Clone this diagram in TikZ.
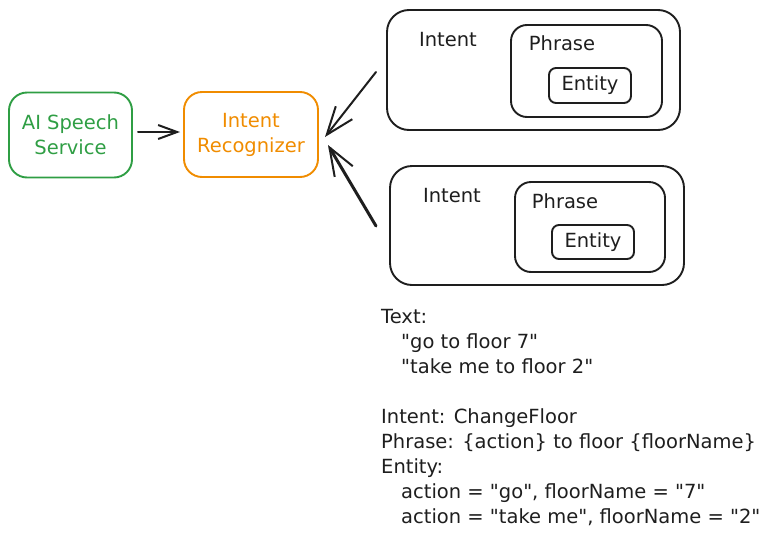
\documentclass[tikz,border=0pt]{standalone}
\usepackage{fontspec}
\setmainfont{DejaVu Sans}[Ligatures=TeXOff]
\usetikzlibrary{arrows.meta}
\definecolor{exgreen}{HTML}{2F9E44}
\definecolor{exorange}{HTML}{F08C00}
\definecolor{exink}{HTML}{1E1E1E}
\newcommand\qd{\char34\relax}
\begin{document}
\begin{tikzpicture}[x=1pt,y=-1pt,
  every node/.style={font=\fontsize{19.5}{25}\selectfont, text=exink, inner sep=0pt},
  box/.style={draw=exink, line width=1.9pt, rounded corners=#1},
  box/.default=18pt,
  arr/.style={draw=exink, line width=2pt, line cap=round,
    -{Straight Barb[length=28pt,width=21pt,line width=2pt]}},
  arrshort/.style={draw=exink, line width=2pt, line cap=round,
    -{Straight Barb[length=19pt,width=14pt,line width=2pt]}},
]
\useasboundingbox (0,0) rectangle (768,544);

% left flow
\node[box, draw=exgreen, text=exgreen, minimum width=123pt, minimum height=85pt, align=center]
  (speech) at (70.5,135) {AI Speech\\Service};
\node[box, draw=exorange, text=exorange, minimum width=134pt, minimum height=85pt, align=center]
  (recog) at (251,134.5) {Intent\\Recognizer};
\coordinate (s1) at (138,132);
\coordinate (e1) at (180,132);
\draw[arrshort] (s1) -- (e1);

% top intent
\node[box=22pt, minimum width=293pt, minimum height=120pt] (int1) at (533.5,70) {};
\node (int1l) at (448,40) {Intent};
\node[box=16pt, minimum width=151pt, minimum height=92pt] (phr1) at (586.5,71) {};
\node (phr1l) at (562,43) {Phrase};
\node[box=7pt, minimum width=82pt, minimum height=35pt] (ent1) at (590,85.5) {Entity};

% bottom intent
\node[box=22pt, minimum width=294pt, minimum height=119pt] (int2) at (537,225.5) {};
\node (int2l) at (452,196) {Intent};
\node[box=16pt, minimum width=150pt, minimum height=90pt] (phr2) at (590,227) {};
\node (phr2l) at (565,201) {Phrase};
\node[box=7pt, minimum width=82pt, minimum height=34pt] (ent2) at (593,242) {Entity};

% arrows into recognizer
\coordinate (a1s) at (376,72);
\coordinate (a1e) at (325,137);
\coordinate (a2s) at (376,226);
\coordinate (a2e) at (328,145);
\draw[arr] (a1s) -- (a1e);
\draw[arr, line width=3pt] (a2s) -- (a2e);

% text block
\node[anchor=north west, align=left] (notes) at (381,309) {%
Text:\\
\hspace*{20pt}\qd go to floor 7\qd\\
\hspace*{20pt}\qd take me to floor 2\qd\\
\mbox{}\\
Intent: ChangeFloor\\
Phrase: \{action\} to floor \{floorName\}\\
Entity:\\
\hspace*{20pt}action = \qd go\qd, floorName = \qd 7\qd\\
\hspace*{20pt}action = \qd take me\qd, floorName = \qd 2\qd};
\end{tikzpicture}
\end{document}
